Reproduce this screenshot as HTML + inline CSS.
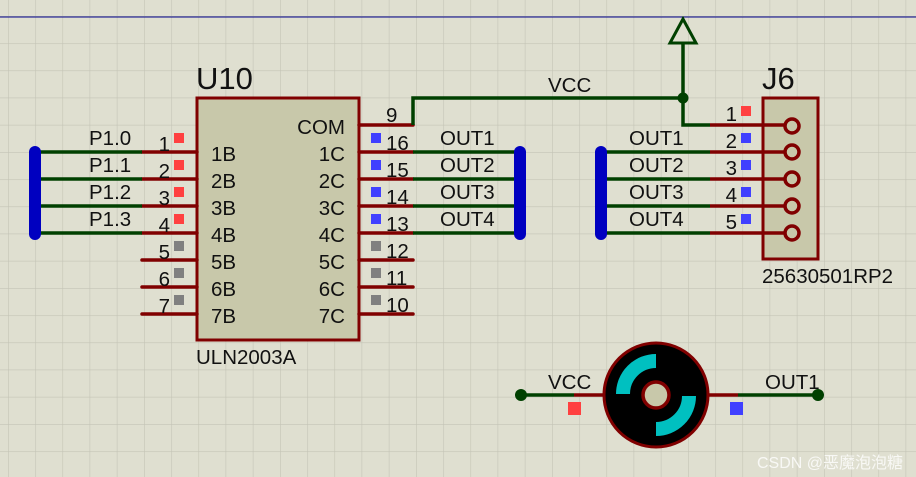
<!DOCTYPE html>
<html><head><meta charset="utf-8"><style>
html,body{margin:0;padding:0;background:#dfdfd0;}
svg{display:block}
text{font-family:"Liberation Sans",Arial,sans-serif;fill:#111;}
</style></head><body>
<svg width="916" height="477" viewBox="0 0 916 477" xmlns="http://www.w3.org/2000/svg">
<defs>
<pattern id="g" x="8" y="16" width="27.2" height="27.2" patternUnits="userSpaceOnUse">
<path d="M0 0H27.2M0 0V27.2" stroke="#c4c4b6" stroke-width="1.2" fill="none"/>
</pattern>
</defs>
<rect width="916" height="477" fill="#dfdfd0"/>
<rect width="916" height="477" fill="url(#g)"/>
<line x1="0" y1="17" x2="916" y2="17" stroke="#00008b" stroke-width="1"/>

<!-- U10 -->
<rect x="197" y="98" width="162" height="242" fill="#c8c8aa" stroke="#800000" stroke-width="3"/>
<text x="196" y="89" font-size="31">U10</text>
<text x="196" y="364" font-size="20.5">ULN2003A</text>
<g stroke="#800000" stroke-width="3.5" stroke-linecap="round">
<line x1="142" y1="152" x2="197" y2="152"/><line x1="142" y1="179" x2="197" y2="179"/>
<line x1="142" y1="206" x2="197" y2="206"/><line x1="142" y1="233" x2="197" y2="233"/>
<line x1="142" y1="260" x2="197" y2="260"/><line x1="142" y1="287" x2="197" y2="287"/>
<line x1="142" y1="314" x2="197" y2="314"/>
<line x1="359" y1="125" x2="413" y2="125"/>
<line x1="359" y1="152" x2="413" y2="152"/><line x1="359" y1="179" x2="413" y2="179"/>
<line x1="359" y1="206" x2="413" y2="206"/><line x1="359" y1="233" x2="413" y2="233"/>
<line x1="359" y1="260" x2="413" y2="260"/><line x1="359" y1="287" x2="413" y2="287"/>
<line x1="359" y1="314" x2="413" y2="314"/>
</g>
<g font-size="20.5">
<text x="211" y="161">1B</text><text x="211" y="188">2B</text><text x="211" y="215">3B</text><text x="211" y="242">4B</text>
<text x="211" y="269">5B</text><text x="211" y="296">6B</text><text x="211" y="323">7B</text>
<text x="345" y="134" text-anchor="end">COM</text>
<text x="345" y="161" text-anchor="end">1C</text><text x="345" y="188" text-anchor="end">2C</text>
<text x="345" y="215" text-anchor="end">3C</text><text x="345" y="242" text-anchor="end">4C</text>
<text x="345" y="269" text-anchor="end">5C</text><text x="345" y="296" text-anchor="end">6C</text>
<text x="345" y="323" text-anchor="end">7C</text>
<text x="170" y="151" text-anchor="end">1</text><text x="170" y="178" text-anchor="end">2</text>
<text x="170" y="205" text-anchor="end">3</text><text x="170" y="232" text-anchor="end">4</text>
<text x="170" y="259" text-anchor="end">5</text><text x="170" y="286" text-anchor="end">6</text>
<text x="170" y="313" text-anchor="end">7</text>
<text x="386" y="122">9</text>
<text x="386" y="150">16</text><text x="386" y="177">15</text><text x="386" y="204">14</text>
<text x="386" y="231">13</text><text x="386" y="258">12</text><text x="386" y="285">11</text>
<text x="386" y="312">10</text>
<text x="89" y="145">P1.0</text><text x="89" y="172">P1.1</text><text x="89" y="199">P1.2</text><text x="89" y="226">P1.3</text>
<text x="440" y="145">OUT1</text><text x="440" y="172">OUT2</text><text x="440" y="199">OUT3</text><text x="440" y="226">OUT4</text>
<text x="548" y="92">VCC</text>
<text x="629" y="145">OUT1</text><text x="629" y="172">OUT2</text><text x="629" y="199">OUT3</text><text x="629" y="226">OUT4</text>
<text x="737" y="121" text-anchor="end">1</text><text x="737" y="148" text-anchor="end">2</text>
<text x="737" y="175" text-anchor="end">3</text><text x="737" y="202" text-anchor="end">4</text>
<text x="737" y="229" text-anchor="end">5</text>
<text x="762" y="283">25630501RP2</text>
<text x="548" y="389">VCC</text>
<text x="765" y="389">OUT1</text>
</g>
<text x="762" y="89" font-size="31">J6</text>
<!-- pin squares -->
<g fill="#ff4040">
<rect x="174" y="133" width="10" height="10"/><rect x="174" y="160" width="10" height="10"/>
<rect x="174" y="187" width="10" height="10"/><rect x="174" y="214" width="10" height="10"/>
<rect x="741" y="106" width="10" height="10"/>
<rect x="568" y="402" width="13" height="13"/>
</g>
<g fill="#808080">
<rect x="174" y="241" width="10" height="10"/><rect x="174" y="268" width="10" height="10"/>
<rect x="174" y="295" width="10" height="10"/>
<rect x="371" y="241" width="10" height="10"/><rect x="371" y="268" width="10" height="10"/>
<rect x="371" y="295" width="10" height="10"/>
</g>
<g fill="#4040ff">
<rect x="371" y="133" width="10" height="10"/><rect x="371" y="160" width="10" height="10"/>
<rect x="371" y="187" width="10" height="10"/><rect x="371" y="214" width="10" height="10"/>
<rect x="741" y="133" width="10" height="10"/><rect x="741" y="160" width="10" height="10"/>
<rect x="741" y="187" width="10" height="10"/><rect x="741" y="214" width="10" height="10"/>
<rect x="730" y="402" width="13" height="13"/>
</g>

<!-- green wires -->
<g stroke="#004000" stroke-width="3.5" fill="none">
<line x1="35" y1="152" x2="142" y2="152"/><line x1="35" y1="179" x2="142" y2="179"/>
<line x1="35" y1="206" x2="142" y2="206"/><line x1="35" y1="233" x2="142" y2="233"/>
<line x1="413" y1="152" x2="520" y2="152"/><line x1="413" y1="179" x2="520" y2="179"/>
<line x1="413" y1="206" x2="520" y2="206"/><line x1="413" y1="233" x2="520" y2="233"/>
<polyline points="413,125 413,98 683,98"/>
<polyline points="683,42 683,125 710,125"/>
<line x1="601" y1="152" x2="710" y2="152"/><line x1="601" y1="179" x2="710" y2="179"/>
<line x1="601" y1="206" x2="710" y2="206"/><line x1="601" y1="233" x2="710" y2="233"/>
<line x1="521" y1="395" x2="574" y2="395"/><line x1="738" y1="395" x2="818" y2="395"/>
<polygon points="683,19 670,43 696,43" stroke-width="3"/>
</g>
<circle cx="683" cy="98" r="5.5" fill="#004000"/>
<circle cx="521" cy="395" r="6" fill="#004000"/>
<circle cx="818" cy="395" r="6" fill="#004000"/>
<!-- buses -->
<g stroke="#0000c0" stroke-width="12" stroke-linecap="round">
<line x1="35" y1="152" x2="35" y2="234"/>
<line x1="520" y1="152" x2="520" y2="234"/>
<line x1="601" y1="152" x2="601" y2="234"/>
</g>

<!-- J6 -->
<rect x="763" y="98" width="55" height="161" fill="#c8c8aa" stroke="#800000" stroke-width="3"/>
<g stroke="#800000" stroke-width="3.5">
<line x1="710" y1="125" x2="784" y2="125"/><line x1="710" y1="152" x2="784" y2="152"/>
<line x1="710" y1="179" x2="784" y2="179"/><line x1="710" y1="206" x2="784" y2="206"/>
<line x1="710" y1="233" x2="784" y2="233"/>
</g>
<g stroke="#800000" stroke-width="3.5" fill="#c8c8aa">
<circle cx="792" cy="126" r="7"/><circle cx="792" cy="152" r="7"/>
<circle cx="792" cy="179" r="7"/><circle cx="792" cy="206" r="7"/>
<circle cx="792" cy="233" r="7"/>
</g>

<!-- motor -->
<g stroke="#800000" stroke-width="3.5">
<line x1="574" y1="395" x2="604" y2="395"/><line x1="708" y1="395" x2="738" y2="395"/>
</g>
<circle cx="656" cy="395" r="52" fill="#000" stroke="#800000" stroke-width="3"/>
<path d="M623 394 A33 33 0 0 1 656 361" stroke="#00c0c0" stroke-width="14" fill="none"/>
<path d="M689 396 A33 33 0 0 1 656 429" stroke="#00c0c0" stroke-width="14" fill="none"/>
<circle cx="656" cy="395" r="13" fill="#c8c8aa" stroke="#800000" stroke-width="3.5"/>

<text x="757" y="468" font-size="16" style="fill:#ffffff;opacity:0.8;font-family:'Liberation Sans','Noto Sans CJK SC',sans-serif">CSDN @恶魔泡泡糖</text>
</svg>
</body></html>
